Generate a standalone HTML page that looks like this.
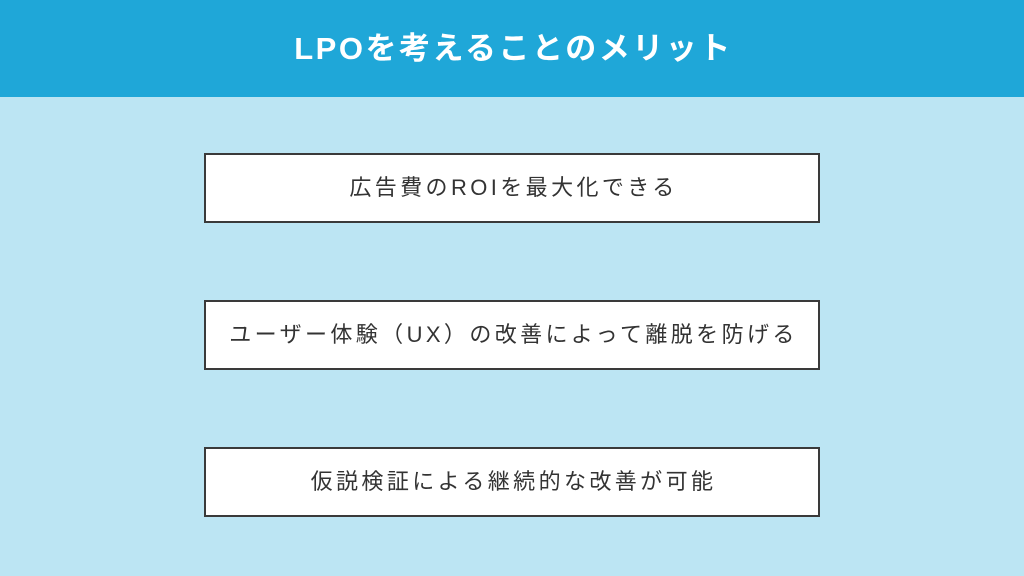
<!DOCTYPE html>
<html><head><meta charset="utf-8"><style>
body{margin:0;width:1024px;height:576px;background:#bce5f3;position:relative;overflow:hidden;font-family:"Liberation Sans","Noto Sans CJK JP",sans-serif}
.h{position:absolute;left:0;top:0;width:1024px;height:97px;background:#1fa7d8;color:#fff;font-size:31px;font-weight:bold;text-align:center;line-height:97px;letter-spacing:2.5px;text-indent:3px}
.b{position:absolute;left:204px;width:612px;height:66px;background:#fff;border:2px solid #3a3a3a;color:#333;font-size:22px;text-align:center;line-height:66px;letter-spacing:3.4px;text-indent:3px}
</style></head><body>
<div class="h">LPOを考えることのメリット</div>
<div class="b" style="top:153px">広告費のROIを最大化できる</div>
<div class="b" style="top:300px">ユーザー体験（UX）の改善によって離脱を防げる</div>
<div class="b" style="top:447px">仮説検証による継続的な改善が可能</div>
</body></html>
